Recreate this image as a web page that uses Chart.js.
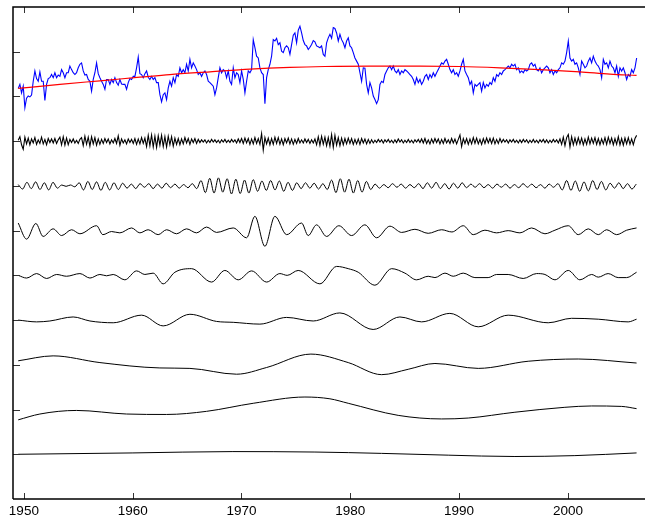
<!DOCTYPE html>
<html>
<head>
<meta charset="utf-8">
<script src="https://cdn.jsdelivr.net/npm/chart.js@4.4.1/dist/chart.umd.min.js"></script>
<style>
  html, body { margin: 0; padding: 0; background: #fff; overflow: hidden; }
  /* the axes run on past the right edge of the window, as in the original figure */
  #wrap { width: 645px; height: 522px; overflow: hidden; }
</style>
</head>
<body>
<div id="wrap"><canvas id="emd" width="700" height="522"></canvas></div>
<script>
'use strict';

// --- axes ---
var xTickYears = [1950, 1960, 1970, 1980, 1990, 2000, 2010];
var yTickValues = [1, 2, 3, 4, 5, 6, 7, 8, 9, 10];

// vertical offset of each strip (in tick units)
var offsets = { signal: 9, imf1: 8, imf2: 7, imf3: 6, imf4: 5, imf5: 4, imf6: 3, imf7: 2, residue: 1 };

// regular sampling of the raw series (about every 1.8 months)
var sampleStart = 1949.48;
var sampleStep = 0.1532;
var imf2Step = 0.4;

// original series (blue), anomaly about its strip offset
var signalValues = [
  0.18, 0.27, 0.08, 0.23, -0.25, -0.04, 0.01, -0.01, 0.03, 0.34,
  0.57, 0.40, 0.34, 0.55, 0.34, 0.34, -0.09, 0.27, 0.40, 0.42,
  0.49, 0.42, 0.53, 0.42, 0.48, 0.45, 0.60, 0.53, 0.42, 0.53,
  0.53, 0.68, 0.60, 0.53, 0.49, 0.53, 0.64, 0.72, 0.75, 0.57,
  0.48, 0.49, 0.38, 0.34, 0.12, 0.38, 0.53, 0.75, 0.51, 0.42,
  0.34, 0.27, 0.16, 0.38, 0.38, 0.27, 0.38, 0.31, 0.42, 0.31,
  0.25, 0.38, 0.28, 0.27, 0.27, 0.16, 0.31, 0.40, 0.38, 0.45,
  0.45, 0.64, 0.88, 0.51, 0.49, 0.42, 0.51, 0.57, 0.43, 0.38,
  0.45, 0.38, 0.42, 0.31, 0.31, 0.04, -0.12, 0.04,
  0.08, -0.07, 0.19, 0.34, 0.23, 0.42, 0.31, 0.49, 0.45, 0.64,
  0.53, 0.60, 0.53, 0.72, 0.57, 0.83, 0.64, 0.75, 0.68, 0.60,
  0.49, 0.53, 0.45, 0.53, 0.57, 0.49, 0.34, 0.31, 0.27, 0.23,
  0.04, 0.19, 0.42, 0.64, 0.53, 0.60, 0.57, 0.42, 0.57, 0.34,
  0.27, 0.64, 0.42, 0.53, 0.49, 0.31, 0.57, 0.38, 0.08, 0.34,
  0.57, 0.53, 0.60, 1.27, 1.09, 0.90, 0.86, 0.64, 0.53, 0.49,
  -0.16, 0.42, 0.60, 0.72, 0.90, 1.27, 1.24, 1.30, 1.16, 1.20,
  1.01, 0.98, 1.09, 1.13, 1.09, 0.94, 1.16, 1.37, 1.42, 1.20,
  1.48, 1.57, 1.42, 1.25, 1.16, 1.13, 1.05, 1.10, 1.16, 1.25,
  1.22, 1.13, 1.11,
  1.09, 1.13, 0.94, 0.90, 1.20, 1.31, 1.39, 1.30, 1.54, 1.52,
  1.42, 1.24, 1.39, 1.27, 1.20, 1.09, 1.24, 1.31, 1.13, 1.09,
  0.98, 0.86, 0.79, 0.72, 0.53, 0.34, 0.64, 0.63, 0.27, 0.08,
  0.31, 0.19, 0.01, -0.07, -0.16, -0.07, 0.27, 0.34, 0.31, 0.49,
  0.57, 0.64, 0.68, 0.60, 0.68, 0.57, 0.53, 0.60, 0.49, 0.57,
  0.53, 0.60, 0.57, 0.53, 0.49, 0.45, 0.38, 0.27, 0.42, 0.31,
  0.38, 0.27, 0.34, 0.45, 0.49, 0.38, 0.49, 0.42, 0.53, 0.45,
  0.53, 0.60, 0.68, 0.75, 0.72, 0.79, 0.83, 0.72, 0.60, 0.53,
  0.60, 0.49, 0.53, 0.45, 0.57, 0.72, 0.83, 0.57, 0.49, 0.42,
  0.27, 0.34, 0.08,
  0.27, 0.23, 0.27, 0.31, 0.12, 0.31, 0.19, 0.27, 0.23, 0.31,
  0.27, 0.42, 0.34, 0.49, 0.45, 0.53, 0.49, 0.57, 0.60, 0.64,
  0.68, 0.64, 0.72, 0.68, 0.72, 0.60, 0.64, 0.53, 0.57, 0.53,
  0.60, 0.57, 0.60, 0.72, 0.75, 0.68, 0.72, 0.60, 0.57, 0.64,
  0.53, 0.60, 0.64, 0.68, 0.64, 0.53, 0.60, 0.49, 0.57, 0.53,
  0.60, 0.64, 0.75, 0.72, 0.79, 0.98, 1.24, 0.86, 0.79, 0.83,
  0.72, 0.75, 0.64, 0.49, 0.79, 0.72, 0.64, 0.68, 0.79, 0.86,
  0.75, 0.90, 0.79, 0.72, 0.68, 0.60, 0.42, 0.83, 0.72, 0.75,
  0.64, 0.79, 0.68, 0.64, 0.53, 0.68, 0.45, 0.64, 0.57, 0.64,
  0.53, 0.38, 0.49, 0.45, 0.60, 0.53, 0.64, 0.86
];

// trend (red)
var trendYears = [1949.48, 1953.31, 1956.99, 1960.66, 1963.42, 1967.10, 1970.77, 1974.45, 1977.67,
  1981.80, 1986.40, 1990.07, 1993.75, 1997.43, 2001.10, 2003.86, 2006.31];
var trendValues = [0.18, 0.27, 0.35, 0.43, 0.49, 0.55, 0.61, 0.65, 0.67,
  0.68, 0.68, 0.67, 0.64, 0.60, 0.55, 0.50, 0.47];

// IMF 1, same sampling as the raw series
var imf1Values = [
  0.02, 0.10, -0.08, -0.18, 0.09,
  -0.06, 0.07, -0.08, 0.05, -0.04, 0.08, -0.07, 0.03, -0.05, 0.09, -0.06, 0.04, -0.08, 0.06, -0.03,
  0.05, -0.04, 0.06, -0.05, 0.03, 0.09, -0.08, 0.10, -0.09, 0.07, -0.08, 0.04, -0.03, 0.05, -0.04, 0.02, -0.05, 0.04,
  0.08, -0.10, 0.11, -0.07, 0.09, -0.11, 0.10, -0.06, 0.08, -0.09, 0.05, -0.07,
  0.04, -0.05, 0.06, -0.03, 0.05, -0.06, 0.03, -0.04, 0.06, -0.05, 0.12, -0.09, 0.05, -0.04, 0.03, -0.06, 0.05, -0.03, 0.04, -0.05, 0.06,
  -0.07, 0.05, -0.06, 0.08, -0.05, 0.07,
  -0.12, 0.13, -0.10, 0.14, -0.13, 0.11, -0.14, 0.12, -0.09, 0.13, -0.12, 0.10, -0.13, 0.11, -0.08, 0.10, -0.11, 0.07,
  -0.07, 0.06, -0.08, 0.05, -0.06, 0.08, -0.04, 0.06, -0.07, 0.05, -0.03, 0.06, -0.05, 0.04, -0.03,
  0.03, -0.02, 0.03, -0.04, 0.02, -0.03, 0.04, -0.02, 0.03, -0.03, 0.02, -0.04, 0.03, -0.02, 0.04, -0.03, 0.02, -0.03, 0.04, -0.02, 0.03, -0.04, 0.05, -0.03,
  0.06, -0.05, 0.07, -0.04, 0.06, -0.07, 0.05, -0.06, 0.08, -0.05, 0.06, -0.07,
  0.17, -0.20, 0.08, -0.06,
  0.07, -0.08, 0.06, -0.07, 0.09, -0.05, 0.08, -0.07, 0.05, -0.08, 0.06, -0.04, 0.07, -0.06, 0.05, -0.07, 0.04, -0.05, 0.06, -0.04,
  0.03, -0.04, 0.05, -0.03, 0.04, -0.05, 0.03, -0.04, 0.05,
  -0.08, 0.10, -0.09, 0.11, -0.07, 0.09, -0.10, 0.08, -0.11, 0.15, -0.14, 0.13, -0.09, 0.08, -0.10, 0.07, -0.08, 0.06,
  -0.06, 0.07, -0.05, 0.06, -0.07, 0.04, -0.06, 0.05, -0.07, 0.06, -0.04, 0.05, -0.06, 0.04, -0.05,
  0.03, -0.04, 0.02, -0.03, 0.04, -0.02, 0.03, -0.04, 0.03, -0.02, 0.04, -0.03, 0.02, -0.04, 0.03, -0.03, 0.05, -0.02, 0.03, -0.04, 0.02, -0.03, 0.04, -0.03, 0.02, -0.04, 0.03, -0.02, 0.04, -0.03,
  0.05, -0.04, 0.06, -0.05, 0.03, -0.06, 0.05, -0.04, 0.06, -0.03, 0.05, -0.06, 0.04, -0.05, 0.06, -0.04, 0.03, -0.05, 0.06, -0.04, 0.05, -0.06, 0.04,
  0.14, -0.12, 0.06, -0.05,
  0.06, -0.07, 0.05, -0.06, 0.08, -0.05, 0.07, -0.06, 0.04, -0.07, 0.06, -0.05, 0.07, -0.04, 0.06, -0.05, 0.07, -0.06, 0.04, -0.05, 0.06,
  -0.03, 0.04, -0.02, 0.03, -0.04, 0.03, -0.02, 0.04, -0.03, 0.02, -0.04, 0.03, -0.03, 0.04, -0.02, 0.03, -0.04, 0.02, -0.03, 0.04, -0.03, 0.02, -0.04, 0.03, -0.02, 0.04, -0.03, 0.03, -0.04, 0.02, -0.03, 0.04, -0.02, 0.03, -0.04, 0.05,
  -0.07, 0.09, -0.10, 0.08, 0.15, -0.13, 0.10, -0.08, 0.07,
  -0.07, 0.08, -0.06, 0.07, -0.08, 0.05, -0.07, 0.09, -0.06, 0.07, -0.05, 0.08, -0.07, 0.06, -0.08, 0.05, -0.06, 0.08, -0.07, 0.09, -0.05, 0.07, -0.08, 0.06, -0.07, 0.10, -0.08, 0.06, -0.09, 0.07, -0.06, 0.08, -0.07, 0.05, -0.08, 0.06, 0.13
];

// IMF 2, sampled every 0.4 yr
var imf2Values = [
  0.03, -0.07, 0.08, -0.06, 0.09, -0.08, 0.07, -0.09, 0.08, -0.05,
  0.02, -0.01, 0.02, -0.02,
  0.07, -0.09, 0.10, -0.08, 0.09, -0.10, 0.08, -0.09, 0.07, -0.08, 0.06,
  -0.05, 0.04, -0.06, 0.05, -0.03, 0.05, -0.06, 0.04, -0.05, 0.06, -0.04,
  0.04, -0.05, 0.03, -0.04, 0.05, -0.06,
  0.12, -0.15, 0.17, -0.16, 0.18, -0.14, 0.16, -0.18, 0.15, -0.17, 0.13, -0.16, 0.14, -0.12,
  0.11, -0.10, 0.12, -0.09, 0.11, -0.12, 0.08, -0.10, 0.07,
  -0.06, 0.07, -0.05, 0.06, -0.07, 0.05, -0.08,
  0.13, -0.15, 0.16, -0.14, 0.15, -0.16, 0.12, -0.14, 0.10, -0.08,
  0.04, -0.05, 0.03, -0.04, 0.05, -0.03, 0.04, -0.05, 0.03, -0.04, 0.05,
  -0.06, 0.07, -0.05, 0.08, -0.06, 0.05, -0.07, 0.06, -0.05, 0.07, -0.04,
  0.04, -0.03, 0.05, -0.04, 0.03, -0.05, 0.04, -0.03, 0.04, -0.05, 0.03, -0.04, 0.05, -0.03, 0.04, -0.04, 0.03, -0.05, 0.04, -0.03, 0.05,
  -0.09, 0.12, -0.10, 0.11, -0.12, 0.09, -0.11, 0.12, -0.08, 0.10, -0.09,
  0.06, -0.05, 0.07, -0.06, 0.05, -0.07, 0.04
];

// IMF 3..7 and residue, read at their turning points
var imf3Years = [1949.48, 1950.25, 1951.10, 1951.77, 1952.69, 1953.47, 1954.38, 1955.15, 1956.68, 1957.26,
  1958.06, 1958.82, 1959.90, 1960.66, 1961.42, 1962.34, 1963.12, 1964.03, 1964.95, 1965.87,
  1966.79, 1967.71, 1969.24, 1970.47, 1971.23, 1972.15, 1973.07, 1974.15, 1975.52, 1976.13,
  1976.90, 1977.82, 1978.95, 1980.12, 1981.34, 1982.42, 1983.64, 1984.72, 1985.94, 1987.16,
  1988.39, 1989.34, 1990.38, 1991.30, 1992.37, 1993.45, 1994.51, 1995.59, 1996.66, 1997.89,
  1998.81, 2000.03, 2000.95, 2001.87, 2002.79, 2003.56, 2004.48, 2005.40, 2006.31];
var imf3Values = [0.17, -0.19, 0.16, -0.13, 0.04, -0.11, 0.02, -0.07, 0.11, -0.09,
  -0.02, -0.05, 0.06, -0.05, 0.02, -0.09, 0.02, -0.07, 0.04, -0.05,
  0.08, -0.04, 0.06, -0.16, 0.32, -0.35, 0.32, -0.09, 0.17, -0.11,
  0.13, -0.13, 0.11, -0.11, 0.13, -0.16, 0.10, -0.04, 0.03, -0.06,
  0.02, -0.03, 0.11, -0.09, 0.01, -0.05, 0.00, -0.05, 0.06, -0.07,
  0.01, 0.11, -0.09, 0.04, -0.09, 0.02, -0.09, 0.01, 0.06];

var imf4Years = [1949.48, 1950.25, 1951.17, 1952.09, 1953.01, 1953.92, 1955.15, 1956.07, 1956.99, 1957.60,
  1958.21, 1959.28, 1960.36, 1961.12, 1961.88, 1962.80, 1963.88, 1965.41, 1967.25, 1968.47,
  1969.70, 1970.93, 1972.31, 1973.53, 1974.20, 1975.21, 1977.21, 1978.74, 1979.81, 1980.73,
  1982.26, 1983.80, 1985.02, 1986.09, 1987.16, 1987.78, 1988.70, 1989.46, 1990.38, 1991.45,
  1992.67, 1993.45, 1994.51, 1995.89, 1997.12, 1997.89, 1998.81, 2000.03, 2001.10, 2002.18,
  2002.79, 2003.70, 2004.62, 2005.40, 2006.31];
var imf4Values = [0.00, -0.06, 0.04, -0.07, 0.02, -0.02, 0.04, -0.06, 0.02, -0.01,
  0.02, -0.10, 0.10, 0.02, 0.05, -0.19, 0.07, 0.15, -0.15, 0.11,
  -0.10, 0.10, -0.15, 0.04, 0.00, 0.11, -0.19, 0.20, 0.15, 0.07,
  -0.22, 0.15, 0.05, -0.10, -0.02, -0.05, 0.05, -0.02, 0.05, -0.05,
  -0.05, 0.02, 0.02, -0.07, 0.04, 0.02, -0.10, 0.11, -0.10, 0.02,
  -0.04, 0.04, -0.05, -0.05, 0.07];

var imf5Years = [1949.48, 1951.17, 1952.39, 1954.53, 1956.07, 1958.21, 1960.82, 1962.80, 1965.26, 1967.71,
  1969.24, 1971.69, 1974.15, 1976.59, 1979.04, 1982.10, 1984.56, 1986.55, 1989.15, 1991.76,
  1994.51, 1998.19, 2000.34, 2002.79, 2005.54, 2006.31];
var imf5Values = [0.00, -0.04, -0.02, 0.07, -0.02, -0.06, 0.11, -0.13, 0.13, -0.03,
  -0.05, -0.09, 0.06, -0.02, 0.16, -0.21, 0.07, -0.04, 0.15, -0.15,
  0.11, -0.06, 0.04, 0.02, -0.04, 0.02];

var imf6Years = [1949.48, 1952.69, 1956.99, 1962.50, 1965.26, 1969.55, 1972.31, 1976.38, 1979.81, 1982.88,
  1985.32, 1987.78, 1991.76, 1996.35, 2000.95, 2006.31];
var imf6Values = [0.09, 0.20, 0.05, -0.07, -0.08, -0.21, -0.06, 0.24, 0.05, -0.22,
  -0.10, 0.03, -0.08, 0.08, 0.13, 0.04];

var imf7Years = [1949.48, 1951.47, 1954.84, 1959.44, 1963.12, 1966.79, 1971.08, 1975.83, 1978.13, 1979.81,
  1984.40, 1988.39, 1990.84, 1995.13, 1999.72, 2002.18, 2004.94, 2006.31];
var imf7Values = [-0.23, -0.10, -0.02, -0.10, -0.11, -0.04, 0.14, 0.28, 0.24, 0.14,
  -0.13, -0.21, -0.19, -0.06, 0.05, 0.08, 0.07, 0.02];

var residueYears = [1949.48, 1960.02, 1969.21, 1976.75, 1982.88, 1989.00, 1995.13, 2000.64, 2006.31];
var residueValues = [0.00, 0.03, 0.06, 0.05, 0.02, -0.02, -0.05, -0.03, 0.03];

// --- helpers ---
function regular(values, start, step, offset) {
  return values.map(function(v, i) { return { x: start + i * step, y: offset + v }; });
}
function paired(years, values, offset) {
  return years.map(function(t, i) { return { x: t, y: offset + values[i] }; });
}
function lineSet(data, color, width, smooth) {
  return {
    data: data,
    borderColor: color,
    borderWidth: width,
    pointRadius: 0,
    fill: false,
    tension: 0,
    cubicInterpolationMode: smooth ? 'monotone' : 'default'
  };
}

var xMin = 1949.0;
var xMax = 2012.14;
var tickFont = { family: '"Liberation Sans", Arial, Helvetica, sans-serif', size: 13.5 };

// MATLAB-like frame: left, top and bottom lines, ticks pointing inward
var axesFrame = {
  id: 'axesFrame',
  afterDraw: function(chart) {
    var ctx = chart.ctx;
    var area = chart.chartArea;
    var sx = chart.scales.x;
    var sy = chart.scales.y;
    ctx.save();
    ctx.strokeStyle = '#333';
    ctx.lineWidth = 1;
    ctx.beginPath();
    xTickYears.forEach(function(v) {
      var px = Math.round(sx.getPixelForValue(v)) + 0.5;
      ctx.moveTo(px, area.top);
      ctx.lineTo(px, area.top + 6);
      ctx.moveTo(px, area.bottom);
      ctx.lineTo(px, area.bottom - 6);
    });
    yTickValues.forEach(function(v) {
      var py = Math.round(sy.getPixelForValue(v)) + 0.5;
      ctx.moveTo(area.left, py);
      ctx.lineTo(area.left + 7, py);
    });
    ctx.stroke();

    ctx.strokeStyle = '#000';
    ctx.lineWidth = 1.5;
    ctx.beginPath();
    ctx.moveTo(area.left, area.bottom);
    ctx.lineTo(area.left, area.top);
    ctx.lineTo(area.right, area.top);
    ctx.moveTo(area.left, area.bottom);
    ctx.lineTo(area.right, area.bottom);
    ctx.stroke();
    ctx.restore();
  }
};

function setXTicks(scale) {
  scale.ticks = xTickYears.map(function(v) { return { value: v }; });
}

new Chart(document.getElementById('emd'), {
  type: 'line',
  data: {
    datasets: [
      lineSet(paired(trendYears, trendValues, offsets.signal), '#ff0000', 1.2, true),
      lineSet(regular(signalValues, sampleStart, sampleStep, offsets.signal), '#0000ff', 1.1, false),
      lineSet(regular(imf1Values, sampleStart, sampleStep, offsets.imf1), '#000000', 1.1, false),
      lineSet(regular(imf2Values, sampleStart, imf2Step, offsets.imf2), '#000000', 1, true),
      lineSet(paired(imf3Years, imf3Values, offsets.imf3), '#000000', 1, true),
      lineSet(paired(imf4Years, imf4Values, offsets.imf4), '#000000', 1, true),
      lineSet(paired(imf5Years, imf5Values, offsets.imf5), '#000000', 1, true),
      lineSet(paired(imf6Years, imf6Values, offsets.imf6), '#000000', 1, true),
      lineSet(paired(imf7Years, imf7Values, offsets.imf7), '#000000', 1, true),
      lineSet(paired(residueYears, residueValues, offsets.residue), '#000000', 1, true)
    ]
  },
  options: {
    responsive: false,
    animation: false,
    devicePixelRatio: 1,
    layout: { padding: 0 },
    plugins: { legend: { display: false }, tooltip: { enabled: false } },
    scales: {
      x: {
        type: 'linear',
        position: 'bottom',
        min: xMin,
        max: xMax,
        afterBuildTicks: setXTicks,
        afterFit: function(s) { s.height = 23; },
        grid: { display: false, drawTicks: false },
        border: { display: false },
        ticks: {
          color: '#000',
          font: tickFont,
          padding: 4,
          maxRotation: 0,
          autoSkip: false,
          callback: function(v) { return String(v); }
        }
      },
      xTop: {
        type: 'linear',
        position: 'top',
        min: xMin,
        max: xMax,
        afterBuildTicks: setXTicks,
        afterFit: function(s) { s.height = 7; },
        grid: { display: false, drawTicks: false },
        border: { display: false },
        ticks: { display: false }
      },
      y: {
        type: 'linear',
        min: 0,
        max: 11,
        afterBuildTicks: function(s) {
          s.ticks = yTickValues.map(function(v) { return { value: v }; });
        },
        afterFit: function(s) { s.width = 13; },
        grid: { display: false, drawTicks: false },
        border: { display: false },
        ticks: { display: false }
      }
    }
  },
  plugins: [axesFrame]
});
</script>
</body>
</html>
